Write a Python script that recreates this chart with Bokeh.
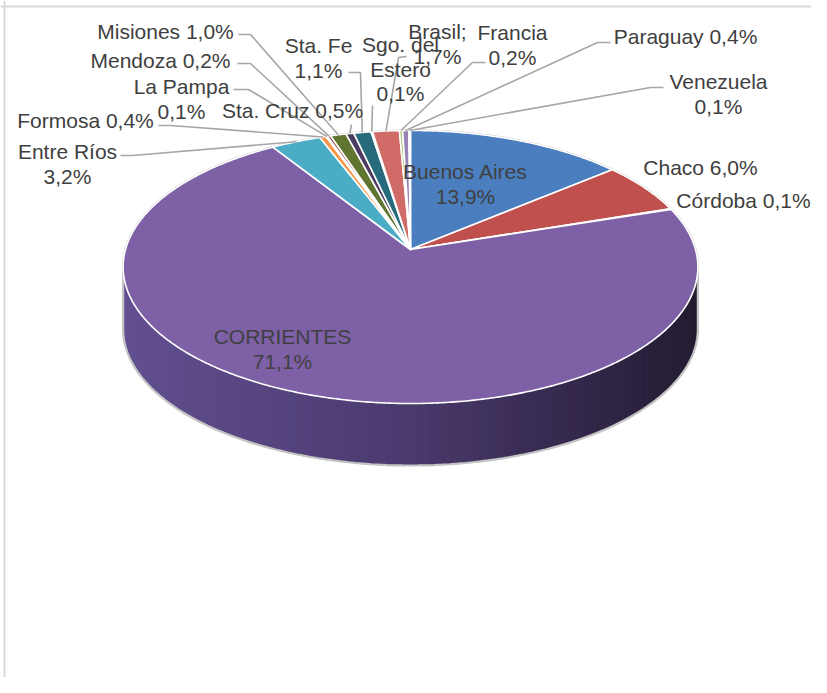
import numpy as np
from bokeh.plotting import figure
from bokeh.models import Range1d, Span
from bokeh.core.properties import value
from bokeh.embed import file_html
from bokeh.resources import INLINE

# ---------------- data ----------------
categories = ["Buenos Aires", "Chaco", "Córdoba", "CORRIENTES", "Entre Ríos", "Formosa",
              "La Pampa", "Mendoza", "Misiones", "Sta. Cruz", "Sta. Fe", "Sgo. del Estero",
              "Brasil", "Francia", "Paraguay", "Venezuela"]
shares = [13.9, 6.0, 0.1, 71.1, 3.2, 0.4, 0.1, 0.2, 1.0, 0.5, 1.1, 0.1, 1.7, 0.2, 0.4, 0.1]
label_texts = ["Buenos Aires\n13,9%", "Chaco 6,0%", "Córdoba 0,1%", "CORRIENTES\n71,1%",
               "Entre Ríos\n3,2%", "Formosa 0,4%", "La Pampa\n0,1%", "Mendoza 0,2%",
               "Misiones 1,0%", "Sta. Cruz 0,5%", "Sta. Fe\n1,1%", "Sgo. del\nEstero\n0,1%",
               "Brasil;\n1,7%", "Francia\n0,2%", "Paraguay 0,4%", "Venezuela\n0,1%"]

# ---------------- styles / layout ----------------
colors = ["#4A7EBF", "#C0504D", "#9BBB59", "#7E60A6", "#4BACC6", "#F79646",
          "#2C4D75", "#772C2A", "#5F7530", "#4D3B62", "#276A7C", "#B65708",
          "#D06B68", "#AFC97A", "#9983B5", "#6FBDD1"]
# first-line centre of each label (picture pixels)
label_pos = [(465, 171), (700, 167), (743, 200), (282, 336), (67, 151), (85, 120),
             (181, 86), (160, 60), (165, 31), (292, 110), (318, 45), (400, 44),
             (437, 31), (512, 32), (685, 36), (718, 81)]
# leader line start and elbow (None = no leader)
leaders = [None, None, None, None,
           ((120, 155), (132, 155)), ((158, 125), (170, 125)),
           ((233, 89), (248, 89)), ((237, 63), (250, 63)), ((238, 34), (250, 34)),
           ((351, 124), (351, 124)), ((348, 72), (360, 72)), ((372, 105), (372, 105)),
           ((406, 56), (398, 57)), ((485, 62), (472, 62)), ((610, 42), (597, 42)),
           ((663, 87), (650, 87))]

CX, CY = 410.0, 249.0     # pie apex on screen
KX, KY = 285.0, 134.3     # projected radii
PERSP = 0.128             # perspective strength
DEPTH = 62.0              # thickness of the pie side
LINE_H = 24.5
FONT = value("Liberation Sans")
FSIZE = "21px"
TXT = "#404040"

W, H = 811, 677
p = figure(width=W, height=H, output_backend="svg", toolbar_location=None,
           x_range=Range1d(0, W), y_range=Range1d(H, 0),
           x_axis_location=None, y_axis_location=None, min_border=0,
           outline_line_color=None, background_fill_color="white")
p.grid.visible = False


def rim(phi):
    phi = np.asarray(phi, dtype=float)
    d = 1 + PERSP * np.cos(phi)
    return CX + KX * np.sin(phi) / d, CY - KY * np.cos(phi) / d


frac = np.array(shares) / np.sum(shares)
edges = np.concatenate([[0], np.cumsum(frac)]) * 2 * np.pi
phi_sil = np.arccos(-PERSP)              # silhouette angle (right side)
phi_sil2 = 2 * np.pi - phi_sil           # left side

# ---------------- side wall (gradient strips) ----------------
angs = np.linspace(phi_sil, phi_sil2, 121)
tx, ty = rim(angs)
left_c = np.array([98, 80, 145])
mid_c = np.array([74, 58, 110])
right_c = np.array([36, 27, 50])
sx_min, sx_max = tx.min(), tx.max()
sxs, sys_, scol = [], [], []
for i in range(len(angs) - 1):
    t = (0.5 * (tx[i] + tx[i + 1]) - sx_min) / (sx_max - sx_min)  # 0 left ... 1 right
    s = 1 - t
    if s < 0.5:
        c = right_c + (mid_c - right_c) * (s / 0.5)
    else:
        c = mid_c + (left_c - mid_c) * ((s - 0.5) / 0.5)
    c = c.astype(int)
    sxs.append([tx[i], tx[i + 1], tx[i + 1], tx[i]])
    sys_.append([ty[i], ty[i + 1], ty[i + 1] + DEPTH, ty[i] + DEPTH])
    scol.append("#%02x%02x%02x" % tuple(c))
p.patches(xs=sxs, ys=sys_, fill_color=scol, line_color=scol, line_width=1)

# outer outline (far rim, silhouette edges, bottom front rim)
far = np.linspace(phi_sil2, phi_sil + 2 * np.pi, 150)
fx, fy = rim(far)
bx, by = rim(angs)
ox = list(fx) + list(bx) + [fx[0]]
oy = list(fy) + list(by + DEPTH) + [fy[0]]
p.line(ox, oy, line_color="#c4c4c4", line_width=2.2)

# ---------------- top face slices ----------------
xs, ys = [], []
for i in range(len(shares)):
    n = max(3, int(np.degrees(edges[i + 1] - edges[i]) * 2))
    a = np.linspace(edges[i], edges[i + 1], n)
    rx, ry = rim(a)
    xs.append([CX] + list(rx))
    ys.append([CY] + list(ry))
p.patches(xs=xs, ys=ys, fill_color=colors, line_color="white", line_width=1.6,
          line_join="round")

# ---------------- leader lines ----------------
lx, ly = [], []
for i, ld in enumerate(leaders):
    if ld is None:
        continue
    midphi = 0.5 * (edges[i] + edges[i + 1])
    ex, ey = rim(midphi)
    (x0, y0), (x1, y1) = ld
    lx.append([x0, x1, float(ex)])
    ly.append([y0, y1, float(ey)])
p.multi_line(xs=lx, ys=ly, line_color="#a6a6a6", line_width=1.6)

# ---------------- labels ----------------
tx_, ty_, tt = [], [], []
for (x, y), txt in zip(label_pos, label_texts):
    for k, row in enumerate(txt.split("\n")):
        tx_.append(x)
        ty_.append(y + k * LINE_H)
        tt.append(row)
p.text(x=tx_, y=ty_, text=tt, text_align="center", text_baseline="middle",
       text_font=FONT, text_font_size=FSIZE, text_color=TXT)

# chart border (top and left)
p.add_layout(Span(location=6, dimension="width", line_color="#d9d9d9", line_width=2))
p.add_layout(Span(location=4, dimension="height", line_color="#d9d9d9", line_width=2))

open("out.html", "w").write(file_html(p, INLINE))
